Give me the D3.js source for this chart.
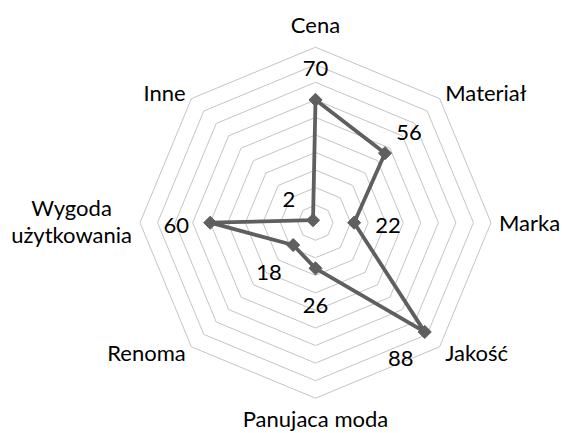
<!DOCTYPE html>
<html>
<head>
<meta charset="utf-8">
<script src="https://cdn.jsdelivr.net/npm/d3@7"></script>
<style>
  html, body { margin: 0; padding: 0; background: #fff; }
  svg text { font-family: Lato, "Open Sans", sans-serif; fill: #000; }
</style>
</head>
<body>
<svg id="chart" width="562" height="433"></svg>
<script>
// ---- data ----
const categories = ["Cena", "Materiał", "Marka", "Jakość", "Panujaca moda", "Renoma", "Wygoda użytkowania", "Inne"];
const values = [70, 56, 22, 88, 26, 18, 60, 2];
const gridTicks = [10, 20, 30, 40, 50, 60, 70, 80, 90, 100];

// ---- layout ----
const W = 562, H = 433;
const cx = 315.5, cy = 222.7, R = 175.5;
const fontSize = 22;
const lineColor = "#5f5f5f";
const gridColor = "#c4c4c4";

const svg = d3.select("#chart");
const n = categories.length;
const angle = d3.scaleLinear().domain([0, n]).range([0, 2 * Math.PI]);
const r = d3.scaleLinear().domain([0, 100]).range([0, R]);

const pt = (i, v) => {
  const a = angle(i);
  return [cx + Math.sin(a) * r(v), cy - Math.cos(a) * r(v)];
};

// grid octagons
const g = svg.append("g");
g.selectAll("path.grid")
  .data(gridTicks)
  .join("path")
  .attr("class", "grid")
  .attr("d", t => d3.line()(d3.range(n).map(i => pt(i, t))) + "Z")
  .attr("fill", "none")
  .attr("stroke", gridColor)
  .attr("stroke-width", 1);

// category labels
const catBoxes = [];
const catG = svg.append("g");
const maxV = gridTicks[gridTicks.length - 1];
categories.forEach((c, i) => {
  const a = angle(i);
  const [vx, vy] = pt(i, maxV);
  const s = Math.sin(a), co = Math.cos(a);
  const pad = 8;
  const ax = vx + s * pad, ay = vy - co * pad;
  const t = catG.append("text").attr("font-size", fontSize);
  if (Math.abs(s) < 0.01) {
    t.attr("text-anchor", "middle").attr("x", ax)
     .attr("y", co > 0 ? ay - 6 : ay + 21).text(c);
  } else {
    // wrap if there is not enough room to the side
    t.text(c);
    const w = t.node().getComputedTextLength();
    const room = s > 0 ? W - ax : ax;
    if (w > room) {
      t.text(null);
      const words = c.split(" ");
      const tmp = words.map(wd => { t.text(wd); return t.node().getComputedTextLength(); });
      t.text(null);
      const maxW = d3.max(tmp);
      const centerX = s > 0 ? ax + maxW / 2 : ax - maxW / 2;
      const lh = fontSize * 1.22;
      const firstBase = ay + 8 - (words.length - 1) * lh / 2 - 1;
      t.attr("text-anchor", "middle");
      words.forEach((wd, k) => {
        t.append("tspan").attr("x", centerX).attr("y", firstBase + k * lh).text(wd);
      });
    } else {
      t.attr("text-anchor", s > 0 ? "start" : "end").attr("x", ax).attr("y", ay + 8.5);
    }
  }
  const b = t.node().getBBox();
  catBoxes.push(b);
});

// series line
const pts = values.map((v, i) => pt(i, v));
svg.append("path")
  .attr("d", d3.line()(pts) + "Z")
  .attr("fill", "none")
  .attr("stroke", lineColor)
  .attr("stroke-width", 3.8)
  .attr("stroke-linejoin", "round");

// markers
svg.append("g").selectAll("path")
  .data(pts)
  .join("path")
  .attr("d", d3.symbol().type(d3.symbolDiamond2).size(110))
  .attr("transform", d => `translate(${d[0]},${d[1]})`)
  .attr("fill", lineColor)
  .attr("stroke", lineColor)
  .attr("stroke-width", 1);

// data labels
const overlap = (a, b) => !(a.x + a.width < b.x || b.x + b.width < a.x || a.y + a.height < b.y || b.y + b.height < a.y);
const lblG = svg.append("g");
values.forEach((v, i) => {
  const off = 34;
  const [px, py] = pt(i, v);
  let a = angle(i);
  const t = lblG.append("text").attr("font-size", fontSize).attr("text-anchor", "middle")
    .attr("dominant-baseline", "central").text(v);
  const place = ang => {
    t.attr("x", px + Math.sin(ang) * off).attr("y", py - Math.cos(ang) * off + 2);
  };
  place(a);
  const hit = () => { const b = t.node().getBBox(); return catBoxes.some(cb => overlap(b, cb)); };
  if (hit()) place(a + Math.PI / 2);
});
</script>
</body>
</html>
